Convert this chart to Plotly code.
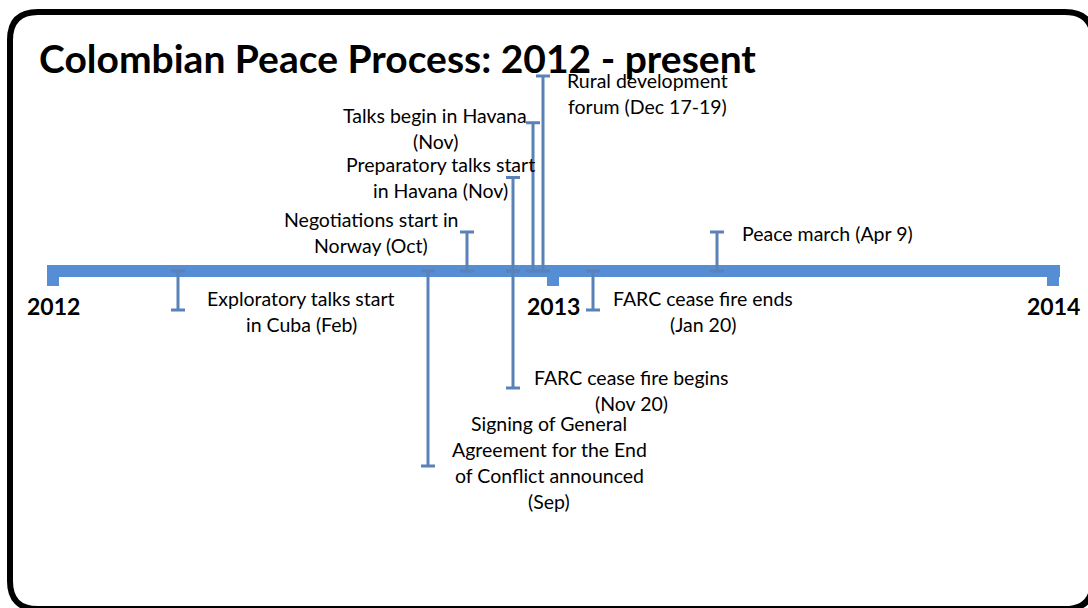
import plotly.graph_objects as go

# ---------------- data ----------------
events = [
    "Exploratory talks start\nin Cuba (Feb)",
    "Signing of General\nAgreement for the End\nof Conflict announced\n(Sep)",
    "Negotiations start in\nNorway (Oct)",
    "Preparatory talks start\nin Havana (Nov)",
    "FARC cease fire begins\n(Nov 20)",
    "Talks begin in Havana\n(Nov)",
    "Rural development\nforum (Dec 17-19)",
    "FARC cease fire ends\n(Jan 20)",
    "Peace march (Apr 9)",
]
event_x = [2012.25, 2012.75, 2012.828, 2012.92, 2012.92, 2012.96, 2012.98, 2013.08, 2013.328]
event_height = [-10, -50, 10, 24, -30, 38, 50, -10, 10]
year_ticks = [2012, 2013, 2014]
year_labels = ["2012", "2013", "2014"]
title_text = "Colombian Peace Process: 2012 - present"

# ---------------- layout helpers ----------------
W, H = 1088, 608
# label offsets (px) of the label centre from the whisker end (dx right, dy down)
label_dx = [123, 121, -96, -73, 118, -98, 104, 110, 110]
label_dy = [1, -4, 0, 0, 2, 6, 17, 1, 1]
LINE_GAP = 26

BAND = "#558ed5"
WHISK = "#5a82b8"
FONT = "Lato"

fig = go.Figure()

fig.add_trace(go.Scatter(
    x=event_x,
    y=[0] * len(event_x),
    mode="markers",
    marker=dict(size=1, color="rgba(0,0,0,0)"),
    error_y=dict(
        type="data",
        symmetric=False,
        array=[max(h, 0) for h in event_height],
        arrayminus=[max(-h, 0) for h in event_height],
        color=WHISK,
        thickness=3,
        width=7,
    ),
    hoverinfo="skip",
    showlegend=False,
))

shapes = []
# timeline band
shapes.append(dict(
    type="rect", xref="x", yref="y",
    x0=year_ticks[0] - 0.012, x1=year_ticks[-1] + 0.014,
    ysizemode="pixel", yanchor=0, y0=-6, y1=6,
    fillcolor=BAND, line=dict(width=0), layer="below",
))
# year tick squares
for yr in year_ticks:
    shapes.append(dict(
        type="rect", xref="x", yref="y",
        xsizemode="pixel", xanchor=yr, x0=-6, x1=6,
        ysizemode="pixel", yanchor=0, y0=-15, y1=0,
        fillcolor=BAND, line=dict(width=0), layer="below",
    ))

# rounded frame (paper coords)
def px(x, y):
    return f"{x / W:.5f},{1 - y / H:.5f}"

fx0, fy0, fx1, fy1, r = 10, 12, 1093, 609, 28
path = (
    f"M {px(fx0 + r, fy0)} L {px(fx1 - r, fy0)} Q {px(fx1, fy0)} {px(fx1, fy0 + r)} "
    f"L {px(fx1, fy1 - r)} Q {px(fx1, fy1)} {px(fx1 - r, fy1)} "
    f"L {px(fx0 + r, fy1)} Q {px(fx0, fy1)} {px(fx0, fy1 - r)} "
    f"L {px(fx0, fy0 + r)} Q {px(fx0, fy0)} {px(fx0 + r, fy0)} Z"
)
shapes.append(dict(type="path", xref="paper", yref="paper", path=path,
                   line=dict(color="black", width=6), layer="above"))

annotations = []
# title
annotations.append(dict(
    text=f"<b>{title_text}</b>", xref="paper", yref="paper",
    x=37 / W, y=1 - 58 / H, xanchor="left", yanchor="middle",
    showarrow=False, font=dict(family=FONT, size=39, color="black"),
))
# year labels
for yr, lab in zip(year_ticks, year_labels):
    annotations.append(dict(
        text=f"<b>{lab}</b>", x=yr, y=0, xref="x", yref="y",
        xanchor="center", yanchor="middle", yshift=-35,
        showarrow=False, font=dict(family=FONT, size=23, color="black"),
    ))
# event labels, one annotation per line
for txt, ex, eh, dx, dy in zip(events, event_x, event_height, label_dx, label_dy):
    lines = txt.split("\n")
    n = len(lines)
    for i, ln in enumerate(lines):
        off = (i - (n - 1) / 2) * LINE_GAP + dy
        annotations.append(dict(
            text=ln, x=ex, y=eh, xref="x", yref="y",
            xanchor="center", yanchor="middle",
            xshift=dx, yshift=-off,
            showarrow=False, font=dict(family=FONT, size=19.5, color="black"),
        ))

PXU = 3.9  # px per unit on y
fig.update_layout(
    width=W, height=H,
    margin=dict(l=0, r=0, t=0, b=0),
    paper_bgcolor="white", plot_bgcolor="white",
    xaxis=dict(range=[2012 - 53 / 500, 2012 + (W - 53) / 500], visible=False, fixedrange=True),
    yaxis=dict(range=[-(H - 271) / PXU, 271 / PXU], visible=False, fixedrange=True),
    shapes=shapes, annotations=annotations,
    showlegend=False,
)

fig.write_html(
    "out.html",
    config={"displayModeBar": False, "staticPlot": True},
    post_script="document.body.style.margin='0px';document.body.style.overflow='hidden';",
)
